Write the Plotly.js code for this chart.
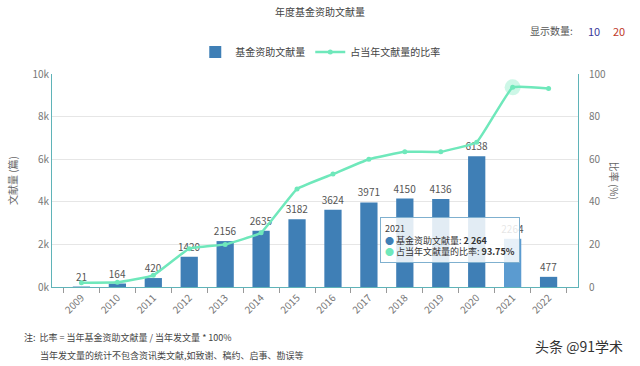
<!DOCTYPE html>
<html>
<head>
<meta charset="utf-8">
<script src="https://cdn.plot.ly/plotly-3.0.1.min.js"></script>
<style>html,body{margin:0;padding:0;background:#fff}#chart{width:640px;height:366px}</style>
</head>
<body>
<div id="chart"></div>
<script>
const years = ['2009','2010','2011','2012','2013','2014','2015','2016','2017','2018','2019','2020','2021','2022'];
const counts = [21,164,420,1420,2156,2635,3182,3624,3971,4150,4136,6138,2264,477];
const ratios = [2,2.2,5.5,18,20,25.5,46,53,60,63.5,63.5,68,93.75,93.2];
const yTicks = [0,2000,4000,6000,8000,10000];
const yTickText = ['0k','2k','4k','6k','8k','10k'];
const rTicks = [0,20,40,60,80,100];

const F = '"Noto Sans CJK SC","Noto Sans",sans-serif';
const hi = 12;
const barColors = counts.map((v,i)=> i===hi ? '#5b9bd0' : '#3f7fb6');

const traces = [
  {type:'bar', name:'基金资助文献量', x:years, y:counts, width:0.48,
   marker:{color:barColors}, text:counts.map(String), textposition:'outside', constraintext:'none',
   textfont:{size:10,color:'#555',family:F}, cliponaxis:false},
  {type:'scatter', mode:'lines+markers', name:'占当年文献量的比率', x:years, y:ratios, yaxis:'y2',
   line:{color:'#6fe8bb',width:2.5,shape:'spline',smoothing:0.3}, marker:{color:'#6fe8bb',size:5}},
  {type:'scatter', mode:'markers', x:[years[hi]], y:[ratios[hi]], yaxis:'y2', showlegend:false,
   marker:{color:'rgba(111,232,187,0.35)',size:16}, hoverinfo:'skip'}
];

const layout = {
  width:640, height:366,
  margin:{l:52,r:62,t:74,b:79},
  paper_bgcolor:'#fff', plot_bgcolor:'#fff',
  font:{family:F,size:10,color:'#666'},
  title:{text:'年度基金资助文献量', x:0.5, xanchor:'center', y:0.967, yanchor:'middle', font:{size:10,color:'#444',family:F}},
  showlegend:true,
  legend:{orientation:'h', x:0.51, xanchor:'center', y:1.103, yanchor:'middle', font:{size:10,color:'#444',family:F}},
  xaxis:{type:'category', tickangle:-45, tickfont:{size:10,color:'#777'}, showline:true, linecolor:'#5fb3b8', linewidth:1,
         ticks:'outside', tickson:'boundaries', ticklen:5, tickcolor:'#999', showgrid:false, fixedrange:true},
  yaxis:{range:[0,10000], tickvals:yTicks, ticktext:yTickText, tickfont:{size:10,color:'#777'}, showline:true,
         linecolor:'#5fb3b8', linewidth:1, gridcolor:'#e6e6e6', zeroline:false, ticks:'', ticklen:0,
         title:{text:'文献量 (篇)', font:{size:10,color:'#666'}, standoff:12}},
  yaxis2:{range:[0,100], tickvals:rTicks, overlaying:'y', side:'right', tickfont:{size:10,color:'#777'}, showline:true,
          linecolor:'#5fb3b8', linewidth:1, showgrid:false, zeroline:false, ticks:'', ticklabelstandoff:8},
  annotations:[
    {text:'比率 (%)', xref:'paper', yref:'paper', x:1.07, y:0.5, xanchor:'center', yanchor:'middle', textangle:90, showarrow:false, font:{size:10,color:'#666'}},
    {text:'显示数量:', xref:'paper', yref:'paper', x:0.994, y:1.202, xanchor:'right', yanchor:'middle', showarrow:false, font:{size:10,color:'#555'}},
    {text:'10', xref:'paper', yref:'paper', x:1.030, y:1.202, xanchor:'center', yanchor:'middle', showarrow:false, font:{size:11,color:'#3a3a9a'}},
    {text:'20', xref:'paper', yref:'paper', x:1.078, y:1.202, xanchor:'center', yanchor:'middle', showarrow:false, font:{size:11,color:'#c0392b'}},
    {text:'注:  比率 = 当年基金资助文献量 / 当年发文量 * 100%', xref:'paper', yref:'paper', x:-0.057, y:-0.235, xanchor:'left', yanchor:'middle', showarrow:false, font:{size:9,color:'#444'}},
    {text:'当年发文量的统计不包含资讯类文献,如致谢、稿约、启事、勘误等', xref:'paper', yref:'paper', x:-0.027, y:-0.32, xanchor:'left', yanchor:'middle', showarrow:false, font:{size:9,color:'#444'}},
    {text:'头条 @91学术', xref:'paper', yref:'paper', x:1.09, y:-0.275, xanchor:'right', yanchor:'middle', showarrow:false, font:{size:14,color:'#333'}},
    {text:'2021<br><span style="color:#3f7fb6">●</span> <span style="color:#333">基金资助文献量: <b>2 264</b></span><br><span style="color:#6fe8bb">●</span> <span style="color:#333">占当年文献量的比率: <b>93.75%</b></span>',
     xref:'paper', yref:'paper', x:0.623, y:0.33, xanchor:'left', yanchor:'top', align:'left', showarrow:false,
     bgcolor:'rgba(255,255,255,0.85)', bordercolor:'#7fb0cf', borderwidth:1, borderpad:4, font:{size:9,color:'#444'}}
  ]
};

Plotly.newPlot('chart', traces, layout, {displayModeBar:false, staticPlot:true});
</script>
</body>
</html>
